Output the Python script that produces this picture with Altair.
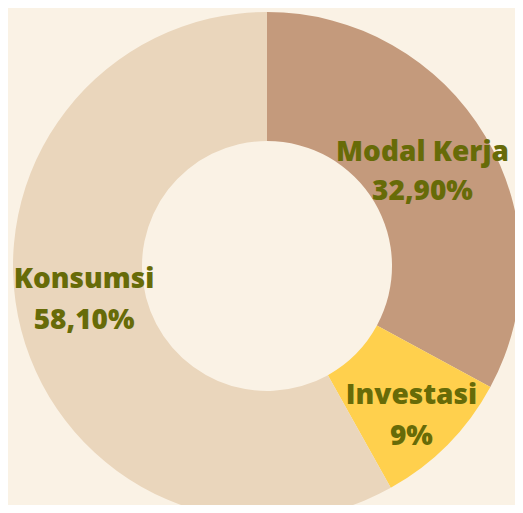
import altair as alt
import pandas as pd

categories = ["Modal Kerja", "Investasi", "Konsumsi"]
values = [32.90, 9.0, 58.10]
pct_labels = ["32,90%", "9%", "58,10%"]
colors = ["#C49A7C", "#FFD04D", "#EAD6BC"]

df = pd.DataFrame({
    "category": categories,
    "value": values,
    "pct": pct_labels,
    "order": list(range(len(categories))),
})

theta_scale = alt.Scale(domain=[0, 100])
color_scale = alt.Scale(domain=categories, range=colors)

CX, CY = 259, 258

arcs = alt.Chart(df).mark_arc(outerRadius=254, innerRadius=125).encode(
    theta=alt.Theta("value:Q", stack=True, scale=theta_scale),
    color=alt.Color("category:N", scale=color_scale, legend=None),
    order=alt.Order("order:Q"),
    x=alt.value(CX),
    y=alt.value(CY),
)

# label placement per slice: (radius, dy line1, dy line2)
label_pos = {
    "Modal Kerja": (181, -20, 19),
    "Investasi": (203, -13, 28),
    "Konsumsi": (189, -34, 7),
}

text_color = "#676B08"
font = "Open Sans"
fsize = 28

layers = [arcs]
for cat in categories:
    r, d1, d2 = label_pos[cat]
    base = alt.Chart(df).transform_window(
        cum="sum(value)", sort=[alt.SortField("order")]
    ).transform_calculate(
        mid="datum.cum - datum.value / 2"
    ).transform_filter(
        alt.datum.category == cat
    )
    for field, d in (("category", d1), ("pct", d2)):
        layers.append(
            base.mark_text(radius=r, dy=d, font=font, fontWeight=800, fontSize=fsize,
                           color=text_color, baseline="middle", align="center").encode(
                theta=alt.Theta("mid:Q", scale=theta_scale),
                text=f"{field}:N",
                x=alt.value(CX),
                y=alt.value(CY),
            )
        )

chart = alt.layer(*layers).properties(
    width=507, height=497, padding=0,
    autosize=alt.AutoSizeParams(type="none"),
    background="#FAF2E5",
).configure_view(stroke=None)

chart.save("out.html", embed_options={"renderer": "svg", "actions": False})
